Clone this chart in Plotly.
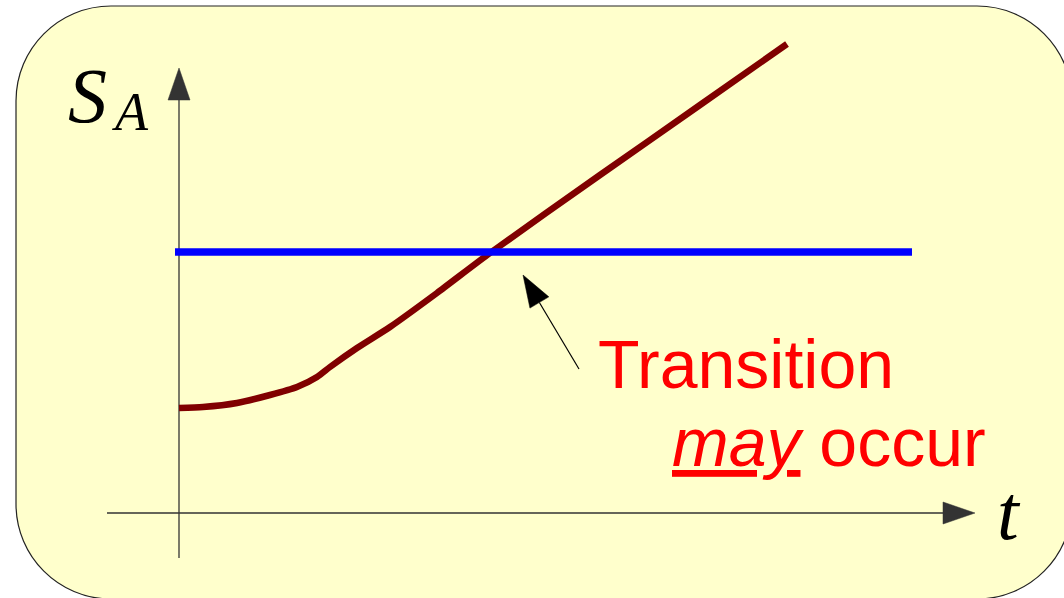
import math
import plotly.graph_objects as go

W, H = 1064, 598

# ---- data (t, S) in plot units ----
curve_t = [0.0, 0.24, 0.58, 0.91, 1.18, 1.38, 1.51, 1.78, 2.11, 2.58, 3.11, 4.21, 5.21, 6.08]
curve_S = [1.05, 1.06, 1.10, 1.18, 1.26, 1.36, 1.46, 1.65, 1.86, 2.20, 2.60, 3.38, 4.08, 4.69]
threshold_t = [-0.04, 7.33]
threshold_S = 2.61

x_range = [-1.79, 8.85]
y_range = [-0.85, 5.13]

# axes geometry
t_axis = [-0.72, 7.96]     # from, tip
S_axis = [-0.45, 4.45]     # from, tip
pointer_tail = (4.00, 1.44)
pointer_tip = (3.44, 2.38)
HEAD_LEN, HEAD_W = 0.32, 0.22

label_line1 = "Transition"
label_line2 = "<i><u>may</u></i> occur"


def head(tip, frm):
    dx, dy = tip[0] - frm[0], tip[1] - frm[1]
    n = math.hypot(dx, dy)
    ux, uy = dx / n, dy / n
    bx, by = tip[0] - ux * HEAD_LEN, tip[1] - uy * HEAD_LEN
    px, py = -uy * HEAD_W / 2, ux * HEAD_W / 2
    xs = [tip[0], bx + px, bx - px, tip[0]]
    ys = [tip[1], by + py, by - py, tip[1]]
    return xs, ys, (bx, by)


fig = go.Figure()

AX_COL = "#333333"


def arrow(frm, tip, width, color):
    xs, ys, base = head(tip, frm)
    fig.add_trace(go.Scatter(x=[frm[0], base[0]], y=[frm[1], base[1]], mode="lines",
                             line=dict(color=color, width=width), hoverinfo="skip"))
    fig.add_trace(go.Scatter(x=xs, y=ys, mode="lines", fill="toself", fillcolor=color,
                             line=dict(color=color, width=0.5), hoverinfo="skip"))


# axes
arrow((t_axis[0], 0), (t_axis[1], 0), 1.3, AX_COL)
arrow((0, S_axis[0]), (0, S_axis[1]), 1.3, AX_COL)

# curve
fig.add_trace(go.Scatter(x=curve_t, y=curve_S, mode="lines",
                         line=dict(color="#800000", width=6.5, shape="spline", smoothing=0.6),
                         hoverinfo="skip"))
# threshold
fig.add_trace(go.Scatter(x=threshold_t, y=[threshold_S, threshold_S], mode="lines",
                         line=dict(color="#0000ff", width=7.5), hoverinfo="skip"))

# pointer
arrow(pointer_tail, pointer_tip, 1.2, "#000000")

# ---- frame (rounded rectangle) in paper coords ----
L, T, R, B, r = 16, 6, 1072, 599, 95
k = 0.5523 * r


def P(x, y):
    return f"{x / W:.5f},{1 - y / H:.5f}"


path = (f"M{P(L + r, T)} L{P(R - r, T)} C{P(R - r + k, T)} {P(R, T + r - k)} {P(R, T + r)} "
        f"L{P(R, B - r)} C{P(R, B - r + k)} {P(R - r + k, B)} {P(R - r, B)} "
        f"L{P(L + r, B)} C{P(L + r - k, B)} {P(L, B - r + k)} {P(L, B - r)} "
        f"L{P(L, T + r)} C{P(L, T + r - k)} {P(L + r - k, T)} {P(L + r, T)} Z")
fig.add_shape(type="path", path=path, xref="paper", yref="paper",
              fillcolor="#ffffcc", line=dict(color="#222222", width=1.2), layer="below")

# ---- text ----
fig.add_annotation(x=4.17, y=1.49, xref="x", yref="y", text=label_line1, showarrow=False,
                   xanchor="left", yanchor="middle",
                   font=dict(family="Liberation Sans", size=68, color="#ff0000"))
fig.add_annotation(x=4.91, y=0.71, xref="x", yref="y", text=label_line2, showarrow=False,
                   xanchor="left", yanchor="middle",
                   font=dict(family="Liberation Sans", size=68, color="#ff0000"))
fig.add_annotation(x=-1.13, y=4.18, xref="x", yref="y", text="<i>S</i>",
                   showarrow=False, xanchor="left", yanchor="middle",
                   font=dict(family="Liberation Serif", size=78, color="#000000"))
fig.add_annotation(x=-0.69, y=4.01, xref="x", yref="y", text="<i>A</i>",
                   showarrow=False, xanchor="left", yanchor="middle",
                   font=dict(family="Liberation Serif", size=54, color="#000000"))
fig.add_annotation(x=8.16, y=0.01, xref="x", yref="y", text="<i>t</i>",
                   showarrow=False, xanchor="left", yanchor="middle",
                   font=dict(family="Liberation Serif", size=78, color="#000000"))

fig.update_layout(
    width=W, height=H, margin=dict(l=0, r=0, t=0, b=0),
    paper_bgcolor="#ffffff", plot_bgcolor="rgba(0,0,0,0)", showlegend=False,
    xaxis=dict(range=x_range, visible=False, fixedrange=True),
    yaxis=dict(range=y_range, visible=False, fixedrange=True),
)

fig.write_html("out.html", config={"displayModeBar": False},
               post_script="document.body.style.margin='0px';")
